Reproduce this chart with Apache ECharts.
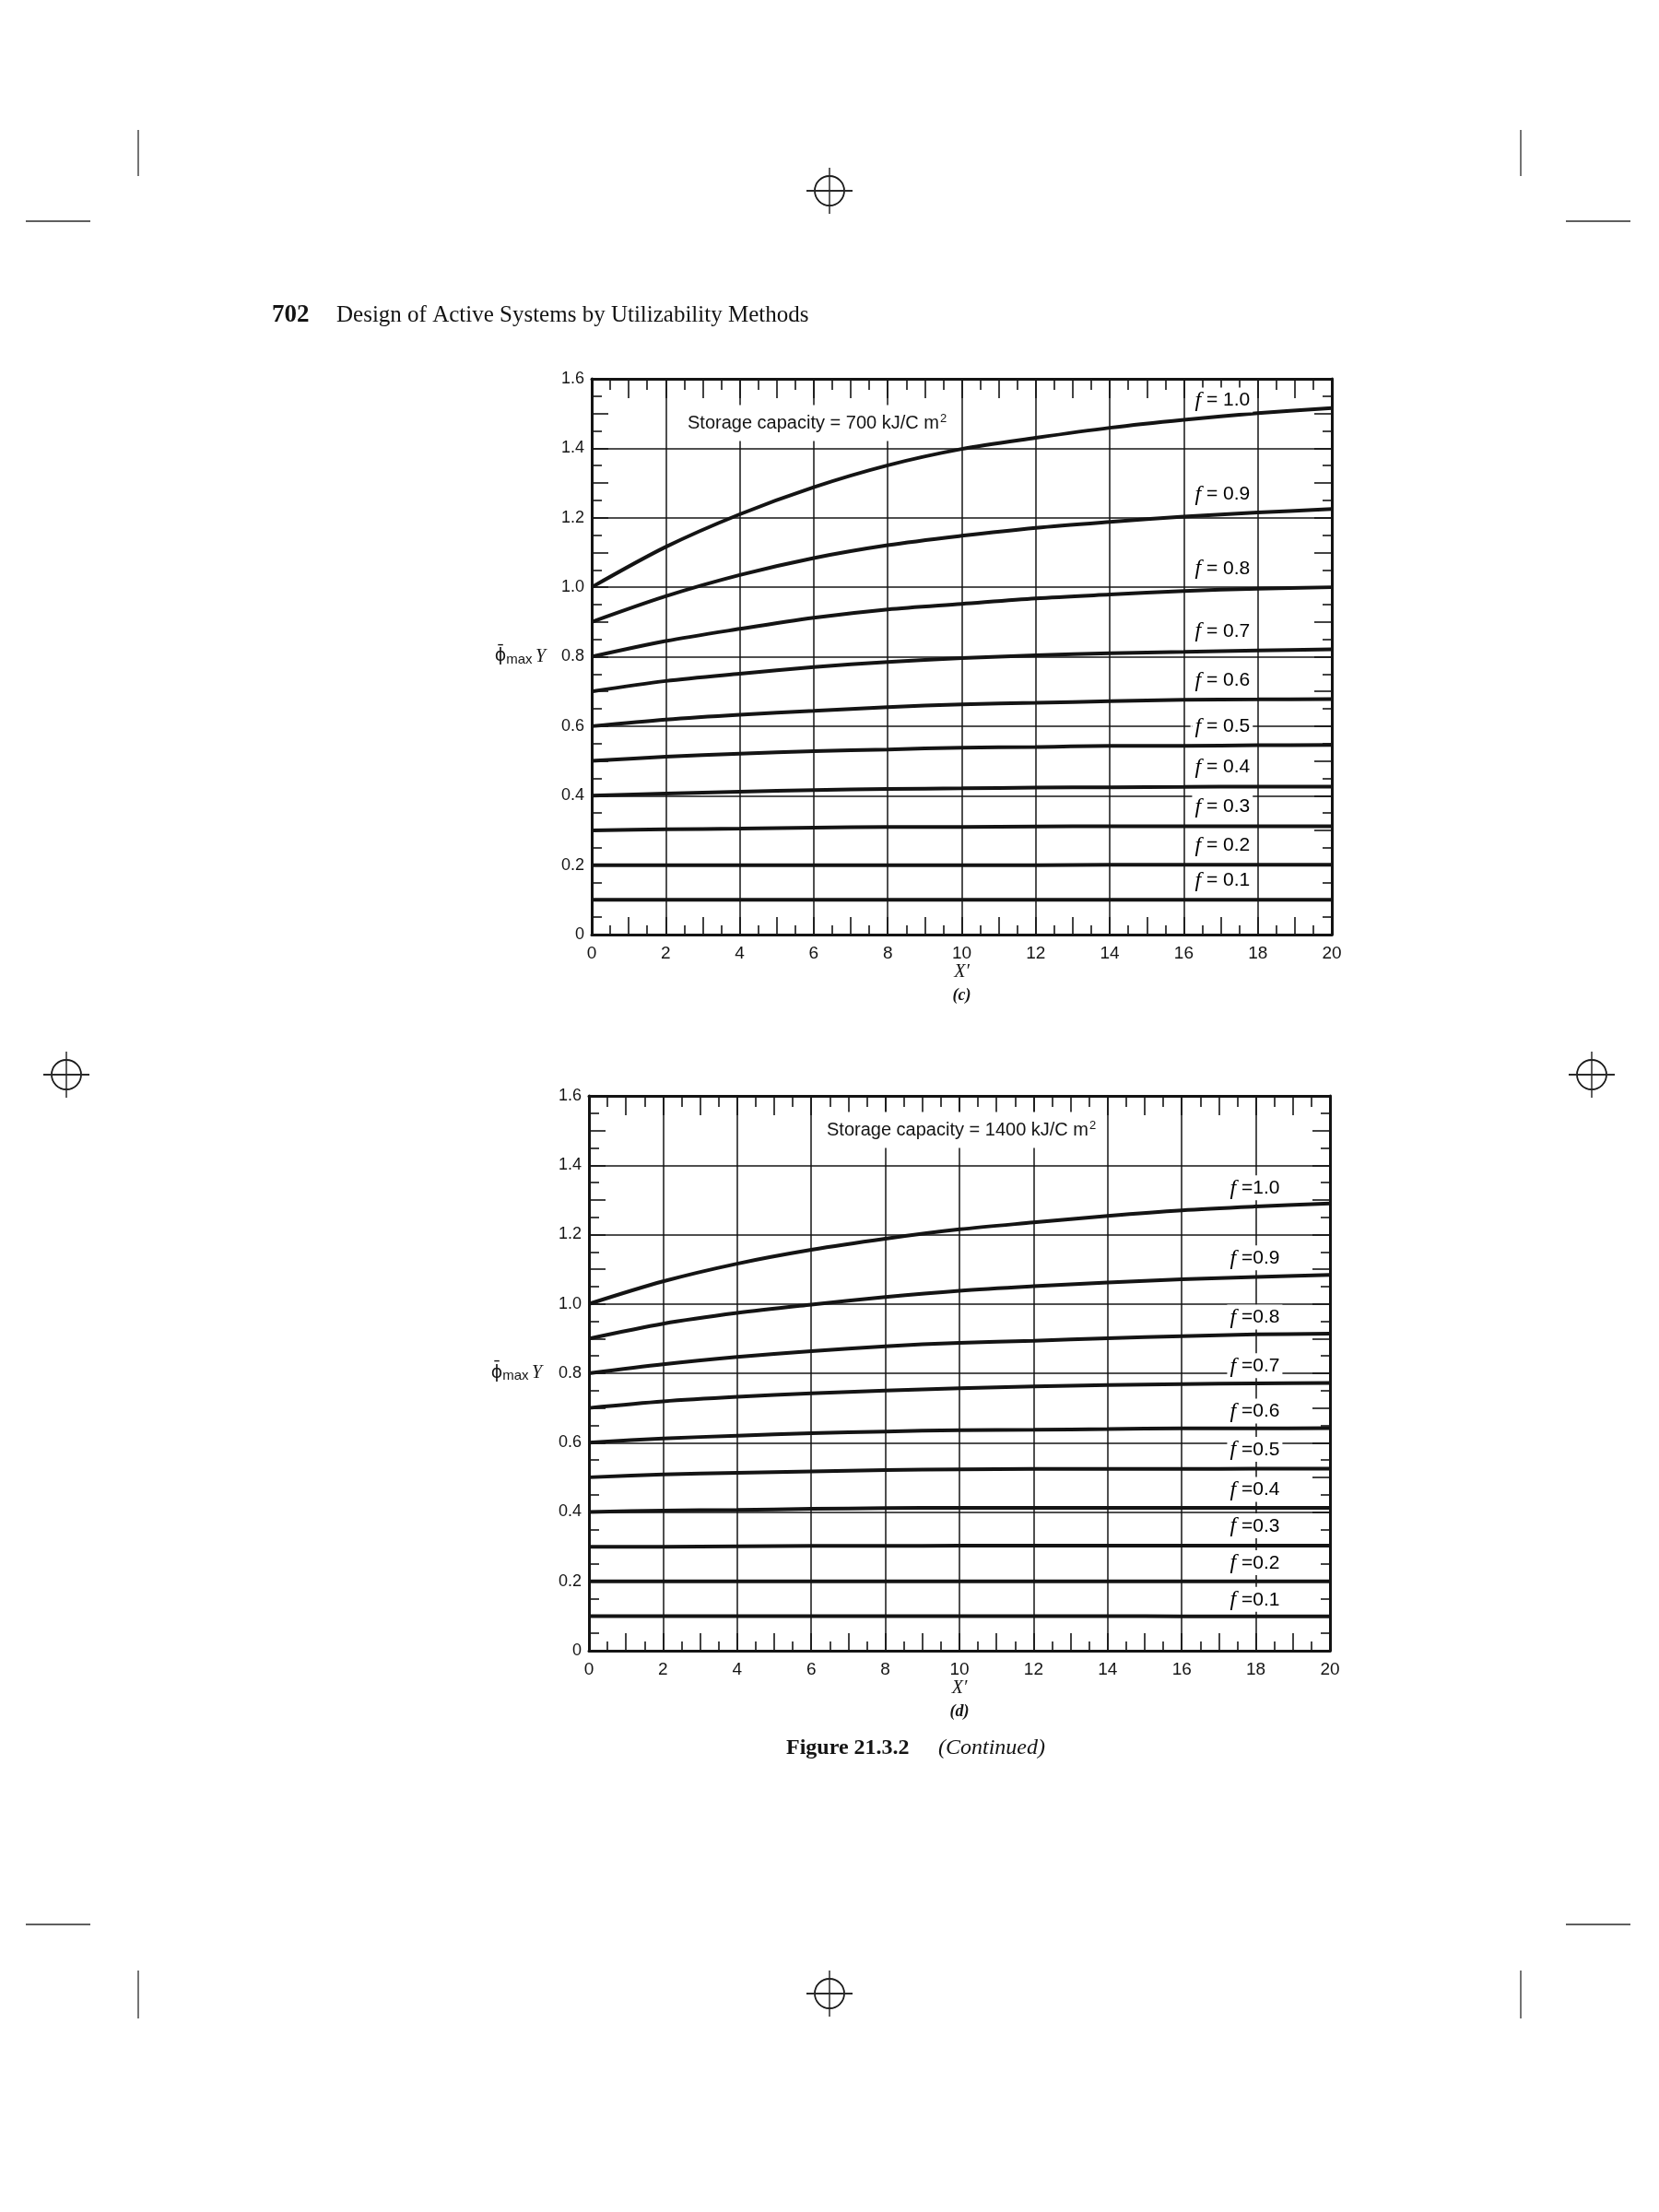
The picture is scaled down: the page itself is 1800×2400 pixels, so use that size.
<!DOCTYPE html>
<html>
<head>
<meta charset="utf-8">
<script src="https://cdn.jsdelivr.net/npm/echarts@6/dist/echarts.min.js"></script>
<style>
html,body{margin:0;padding:0;background:#fff;}
#chart{width:1800px;height:2400px;}
</style>
</head>
<body>
<div id="chart"></div>
<script>
// ---------------- DATA ----------------
const X = [0, 2, 4, 6, 8, 10, 12, 14, 16, 18, 20];
const F_LEVELS = [1.0, 0.9, 0.8, 0.7, 0.6, 0.5, 0.4, 0.3, 0.2, 0.1];
const X_TICKS = [0, 2, 4, 6, 8, 10, 12, 14, 16, 18, 20];
const Y_TICKS = ['0', '0.2', '0.4', '0.6', '0.8', '1.0', '1.2', '1.4', '1.6'];

// (c) storage capacity 700 kJ/C m2
const c_f10 = [1.00, 1.116, 1.210, 1.288, 1.351, 1.398, 1.430, 1.459, 1.482, 1.501, 1.516];
const c_f09 = [0.90, 0.974, 1.035, 1.084, 1.121, 1.148, 1.171, 1.188, 1.203, 1.215, 1.225];
const c_f08 = [0.80, 0.845, 0.880, 0.912, 0.936, 0.952, 0.968, 0.979, 0.989, 0.996, 1.000];
const c_f07 = [0.70, 0.730, 0.751, 0.770, 0.785, 0.796, 0.804, 0.810, 0.814, 0.818, 0.821];
const c_f06 = [0.60, 0.619, 0.633, 0.644, 0.655, 0.663, 0.667, 0.672, 0.676, 0.677, 0.678];
const c_f05 = [0.50, 0.512, 0.521, 0.528, 0.533, 0.538, 0.540, 0.543, 0.543, 0.545, 0.546];
const c_f04 = [0.40, 0.406, 0.411, 0.416, 0.419, 0.421, 0.423, 0.424, 0.425, 0.426, 0.426];
const c_f03 = [0.30, 0.303, 0.305, 0.308, 0.310, 0.310, 0.311, 0.312, 0.312, 0.312, 0.312];
const c_f02 = [0.20, 0.200, 0.200, 0.200, 0.200, 0.200, 0.200, 0.201, 0.201, 0.201, 0.201];
const c_f01 = [0.10, 0.100, 0.100, 0.100, 0.100, 0.100, 0.100, 0.100, 0.100, 0.100, 0.100];

// (d) storage capacity 1400 kJ/C m2
const d_f10 = [1.00, 1.065, 1.116, 1.156, 1.188, 1.215, 1.235, 1.254, 1.270, 1.281, 1.290];
const d_f09 = [0.90, 0.943, 0.974, 0.998, 1.020, 1.038, 1.051, 1.062, 1.071, 1.078, 1.084];
const d_f08 = [0.80, 0.826, 0.847, 0.864, 0.878, 0.888, 0.894, 0.901, 0.907, 0.912, 0.914];
const d_f07 = [0.70, 0.719, 0.732, 0.742, 0.750, 0.757, 0.762, 0.766, 0.769, 0.771, 0.772];
const d_f06 = [0.60, 0.612, 0.620, 0.627, 0.632, 0.636, 0.637, 0.639, 0.641, 0.641, 0.642];
const d_f05 = [0.50, 0.508, 0.513, 0.517, 0.521, 0.523, 0.524, 0.524, 0.524, 0.525, 0.525];
const d_f04 = [0.40, 0.404, 0.406, 0.409, 0.411, 0.412, 0.412, 0.412, 0.412, 0.412, 0.412];
const d_f03 = [0.30, 0.300, 0.301, 0.302, 0.302, 0.303, 0.303, 0.303, 0.303, 0.303, 0.303];
const d_f02 = [0.20, 0.200, 0.200, 0.200, 0.200, 0.200, 0.200, 0.200, 0.200, 0.200, 0.200];
const d_f01 = [0.10, 0.100, 0.100, 0.100, 0.100, 0.100, 0.100, 0.100, 0.099, 0.099, 0.099];

const C_CURVES = [c_f10, c_f09, c_f08, c_f07, c_f06, c_f05, c_f04, c_f03, c_f02, c_f01];
const D_CURVES = [d_f10, d_f09, d_f08, d_f07, d_f06, d_f05, d_f04, d_f03, d_f02, d_f01];

// annotation anchors (data space) for the f = ... labels
const C_LABEL_X = 16.2;
const C_LABEL_Y = [1.539, 1.269, 1.055, 0.874, 0.733, 0.600, 0.483, 0.369, 0.258, 0.157];
const D_LABEL_X = 17.2;
const D_LABEL_Y = [1.335, 1.133, 0.962, 0.822, 0.691, 0.581, 0.465, 0.360, 0.254, 0.148];

// ---------------- LAYOUT ----------------
const INK = '#141414';
const GRIDS = [
  {left: 642, top: 411, width: 803, height: 603},
  {left: 639, top: 1189, width: 804, height: 602}
];
const SANS = '"Liberation Sans", Arial, sans-serif';
const SERIF = '"Liberation Serif", "Times New Roman", serif';

const chart = echarts.init(document.getElementById('chart'), null, {renderer: 'canvas'});

const xAxes = [], yAxes = [], series = [];
const panelTag = ['(c)', '(d)'];

GRIDS.forEach((g, gi) => {
  xAxes.push({
    gridIndex: gi, type: 'value', min: 0, max: 20, interval: 2, position: 'bottom',
    axisLine: {show: true, onZero: false, lineStyle: {color: INK, width: 3}},
    axisTick: {show: false},
    axisLabel: {show: true, color: INK, fontSize: 19, fontFamily: SANS, margin: 11,
      formatter: v => String(X_TICKS[Math.round(v / 2)])},
    splitLine: {show: true, lineStyle: {color: INK, width: 1.5}},
    name: '{x|X′}\n{c|' + panelTag[gi] + '}',
    nameLocation: 'middle', nameGap: 28,
    nameTextStyle: {
      color: INK,
      rich: {
        x: {fontFamily: SERIF, fontStyle: 'italic', fontSize: 20, lineHeight: 25, color: INK},
        c: {fontFamily: SERIF, fontStyle: 'italic', fontWeight: 'bold', fontSize: 18, lineHeight: 25, color: INK}
      }
    }
  });
  xAxes.push({
    gridIndex: gi, type: 'value', min: 0, max: 20, interval: 1, position: 'bottom',
    axisLine: {show: false, onZero: false},
    axisTick: {show: true, inside: true, length: 19, lineStyle: {color: INK, width: 1.6}},
    minorTick: {show: true, splitNumber: 2, length: 10, lineStyle: {color: INK, width: 1.6}},
    axisLabel: {show: false}, splitLine: {show: false}
  });
  xAxes.push({
    gridIndex: gi, type: 'value', min: 0, max: 20, interval: 1, position: 'top',
    axisLine: {show: true, onZero: false, lineStyle: {color: INK, width: 3}},
    axisTick: {show: true, inside: true, length: 21, lineStyle: {color: INK, width: 1.6}},
    minorTick: {show: true, splitNumber: 2, length: 12, lineStyle: {color: INK, width: 1.6}},
    axisLabel: {show: false}, splitLine: {show: false}
  });
  yAxes.push({
    gridIndex: gi, type: 'value', min: 0, max: 1.6, interval: 0.2, position: 'left',
    axisLine: {show: true, onZero: false, lineStyle: {color: INK, width: 3}},
    axisTick: {show: false},
    axisLabel: {show: true, color: INK, fontSize: 18, fontFamily: SANS, margin: 8,
      formatter: v => Y_TICKS[Math.round(v / 0.2)]},
    splitLine: {show: true, lineStyle: {color: INK, width: 1.5}}
  });
  yAxes.push({
    gridIndex: gi, type: 'value', min: 0, max: 1.6, interval: 0.1, position: 'left',
    axisLine: {show: false, onZero: false},
    axisTick: {show: true, inside: true, length: 18, lineStyle: {color: INK, width: 1.6}},
    minorTick: {show: true, splitNumber: 2, length: 11, lineStyle: {color: INK, width: 1.6}},
    axisLabel: {show: false}, splitLine: {show: false}
  });
  yAxes.push({
    gridIndex: gi, type: 'value', min: 0, max: 1.6, interval: 0.1, position: 'right',
    axisLine: {show: true, onZero: false, lineStyle: {color: INK, width: 3}},
    axisTick: {show: true, inside: true, length: 19, lineStyle: {color: INK, width: 1.6}},
    minorTick: {show: true, splitNumber: 2, length: 10, lineStyle: {color: INK, width: 1.6}},
    axisLabel: {show: false}, splitLine: {show: false}
  });
});

function addPanel(gi, curves, lx, ly, eqFmt) {
  const xi = gi * 3, yi = gi * 3;
  curves.forEach((vals, k) => {
    series.push({
      type: 'line', xAxisIndex: xi, yAxisIndex: yi,
      name: 'f=' + F_LEVELS[k].toFixed(1),
      data: X.map((x, j) => [x, vals[j]]),
      smooth: 0.3, symbol: 'none', silent: true,
      lineStyle: {color: INK, width: 4}, z: 3
    });
  });
  series.push({
    type: 'scatter', xAxisIndex: xi, yAxisIndex: yi, silent: true, z: 4,
    symbolSize: 2, itemStyle: {color: '#fff', opacity: 1},
    data: F_LEVELS.map((f, k) => [lx, ly[k], f]),
    labelLayout: {hideOverlap: false},
    label: {
      show: true, position: 'right', distance: 0, opacity: 1,
      formatter: p => '{i|f}{t|' + eqFmt + p.value[2].toFixed(1) + '}',
      backgroundColor: '#fff', padding: [2, 3, 1, 3],
      color: '#000', fontSize: 21, fontFamily: SANS, textBorderWidth: 0,
      rich: {
        i: {fontFamily: SERIF, fontStyle: 'italic', fontSize: 24, color: '#000', textBorderWidth: 0},
        t: {fontFamily: SANS, fontSize: 21, color: '#000', textBorderWidth: 0}
      }
    }
  });
}
addPanel(0, C_CURVES, C_LABEL_X, C_LABEL_Y, ' = ');
addPanel(1, D_CURVES, D_LABEL_X, D_LABEL_Y, ' =');

// ---------------- PAGE GRAPHICS ----------------
const graphic = [];
function txt(x, y, text, font, align) {
  graphic.push({
    type: 'text', x: x, y: y, silent: true, z: 10,
    style: {text: text, font: font, fill: INK, align: align || 'left', verticalAlign: 'middle',
      textAlign: align || 'left', textVerticalAlign: 'middle'}
  });
}
function line(x1, y1, x2, y2, w) {
  graphic.push({type: 'line', silent: true, z: 10, shape: {x1, y1, x2, y2},
    style: {stroke: '#2a2a2a', lineWidth: w || 1.3}});
}
function target(cx, cy) {
  graphic.push({type: 'circle', silent: true, z: 10, shape: {cx, cy, r: 16},
    style: {stroke: '#1a1a1a', fill: null, lineWidth: 1.8}});
  line(cx - 25, cy, cx + 25, cy, 1.8);
  line(cx, cy - 25, cx, cy + 25, 1.5);
}

// header & caption
txt(295, 342, '702', 'bold 27px "Liberation Serif"');
txt(365, 342, 'Design of Active Systems by Utilizability Methods', '25px "Liberation Serif"');
txt(853, 1897, 'Figure 21.3.2', 'bold 24px "Liberation Serif"');
txt(1018, 1897, '(Continued)', 'italic 24px "Liberation Serif"');

// storage capacity titles (white box over grid lines)
function storage(x, y, val) {
  graphic.push({type: 'text', x: x, y: y, silent: true, z: 9,
    style: {text: '{t|Storage capacity = ' + val + ' kJ/C m}{s|2}', fill: INK,
      align: 'left', verticalAlign: 'middle', textAlign: 'left', textVerticalAlign: 'middle',
      backgroundColor: '#fff', padding: [8, 5, 8, 5],
      rich: {
        t: {fontFamily: '"Liberation Sans"', fontSize: 20, fill: INK, color: INK},
        s: {fontFamily: '"Liberation Sans"', fontSize: 13, fill: INK, color: INK, padding: [0, 0, 10, 1]}
      }}});
}
storage(741, 459, '700');
storage(892, 1226, '1400');

// y-axis names
[[592, GRIDS[0].top + GRIDS[0].height / 2], [588, GRIDS[1].top + GRIDS[1].height / 2]].forEach(([x, y]) => {
  graphic.push({type: 'text', x: x, y: y, silent: true, z: 10,
    style: {
      text: '{p|ϕ\u0304}{s|max} {y|Y}', align: 'right', verticalAlign: 'middle',
      textAlign: 'right', textVerticalAlign: 'middle', fill: INK,
      rich: {
        p: {fontFamily: '"DejaVu Sans"', fontSize: 19, fill: INK, color: INK},
        s: {fontFamily: '"Liberation Sans"', fontSize: 15, fill: INK, color: INK, padding: [6, 0, 0, 0]},
        y: {fontFamily: SERIF, fontStyle: 'italic', fontSize: 20, fill: INK, color: INK}
      }
    }});
});

// crop marks
line(150, 141, 150, 191); line(1650, 141, 1650, 191);
line(150, 2138, 150, 2190); line(1650, 2138, 1650, 2190);
line(28, 240, 98, 240); line(1699, 240, 1769, 240);
line(28, 2088, 98, 2088); line(1699, 2088, 1769, 2088);
target(900, 207); target(900, 2163); target(72, 1166); target(1727, 1166);

chart.setOption({
  backgroundColor: '#fff',
  animation: false,
  grid: GRIDS.map(g => Object.assign({containLabel: false}, g)),
  xAxis: xAxes,
  yAxis: yAxes,
  series: series,
  graphic: graphic
});
</script>
</body>
</html>
